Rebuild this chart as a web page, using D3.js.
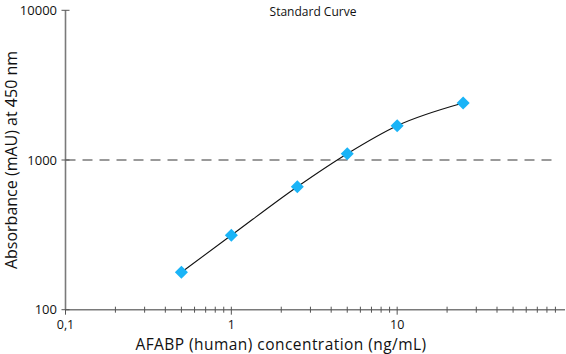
<!DOCTYPE html>
<html><head><meta charset="utf-8">
<script src="https://cdn.jsdelivr.net/npm/d3@7"></script>
<style>body{margin:0;background:#fff}svg{display:block}text{font-family:"Open Sans","Noto Sans",sans-serif;fill:#111}</style>
</head><body><svg id="c" width="566" height="354"></svg>
<script>
const concentrations = [0.5, 1, 2.5, 5, 10, 25];
const absorbance = [178, 314, 663, 1102, 1695, 2403];
const xTickValues = [0.1, 1, 10];
const xTickLabels = ["0,1", "1", "10"];
const yTickValues = [100, 1000, 10000];
const yTickLabels = ["100", "1000", "10000"];
const refLine = 1000;
const title = "Standard Curve";
const xTitle = "AFABP (human) concentration (ng/mL)";
const yTitle = "Absorbance (mAU) at 450 nm";

const svg = d3.select("#c");
const x = d3.scaleLog().domain([0.1, 100]).range([65.5, 563]);
const y = d3.scaleLog().domain([100, 10000]).range([309.7, 10.3]);
const axisColor = "#7a7a7a";

// reference dashed line
svg.append("line").attr("x1", x(0.1)).attr("x2", 558).attr("y1", y(refLine)).attr("y2", y(refLine))
  .attr("stroke", "#7a7a7a").attr("stroke-width", 1.6).attr("stroke-dasharray", "10,7");

// curve
const pts = concentrations.map((c, i) => [x(c), y(absorbance[i])]);
svg.append("path").attr("d", d3.line().curve(d3.curveMonotoneX)(pts))
  .attr("fill", "none").attr("stroke", "#111").attr("stroke-width", 1.1);

// x axis
const gx = svg.append("g");
gx.append("line").attr("x1", x(0.1)).attr("x2", 565).attr("y1", y(100)).attr("y2", y(100))
  .attr("stroke", axisColor).attr("stroke-width", 1.6);
const minor = [];
[0.1, 1, 10].forEach(d => { for (let k = 2; k <= 9; k++) minor.push(d * k); });
gx.selectAll("line.mn").data(minor).join("line").attr("class", "mn")
  .attr("x1", d => x(d)).attr("x2", d => x(d)).attr("y1", y(100) - 3).attr("y2", y(100) + 3)
  .attr("stroke", "#555").attr("stroke-width", 1);
gx.selectAll("line.mj").data(xTickValues).join("line").attr("class", "mj")
  .attr("x1", d => x(d)).attr("x2", d => x(d)).attr("y1", y(100) - 3).attr("y2", y(100) + 5)
  .attr("stroke", "#555").attr("stroke-width", 1);
gx.selectAll("text").data(xTickValues).join("text")
  .attr("x", d => x(d)).attr("y", 328.5).attr("text-anchor", "middle").attr("font-size", 12.5)
  .text((d, i) => xTickLabels[i]);

// y axis
const gy = svg.append("g");
gy.append("line").attr("x1", x(0.1)).attr("x2", x(0.1)).attr("y1", y(10000)).attr("y2", y(100))
  .attr("stroke", axisColor).attr("stroke-width", 1.6);
gy.selectAll("line.mj").data(yTickValues).join("line").attr("class", "mj")
  .attr("x1", x(0.1) - 4).attr("x2", x(0.1) + 4).attr("y1", d => y(d)).attr("y2", d => y(d))
  .attr("stroke", "#555").attr("stroke-width", 1);
gy.selectAll("text").data(yTickValues).join("text")
  .attr("x", 57).attr("y", d => y(d) + 4.5).attr("text-anchor", "end").attr("font-size", 13)
  .text((d, i) => yTickLabels[i]);

// markers
svg.selectAll("path.pt").data(concentrations).join("path").attr("class", "pt")
  .attr("d", d3.symbol().type(d3.symbolSquare).size(85))
  .attr("transform", (d, i) => `translate(${x(d)},${y(absorbance[i])}) rotate(45)`)
  .attr("fill", "#1ab4f7");

// titles
svg.append("text").attr("x", 313).attr("y", 16).attr("text-anchor", "middle").attr("font-size", 12).text(title);
svg.append("text").attr("x", 281).attr("y", 349.5).attr("text-anchor", "middle").attr("font-size", 15.5)
  .attr("letter-spacing", 0.45).text(xTitle);
svg.append("text").attr("transform", "translate(17,160) rotate(-90)").attr("text-anchor", "middle").attr("font-size", 16).text(yTitle);
</script></body></html>
